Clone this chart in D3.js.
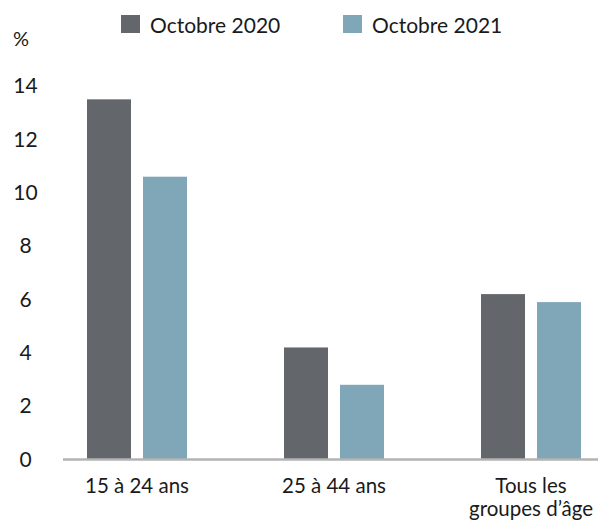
<!DOCTYPE html>
<html>
<head>
<meta charset="utf-8">
<script src="https://cdn.jsdelivr.net/npm/d3@7"></script>
<style>
  html, body { margin: 0; padding: 0; background: #fff; }
  svg { display: block; }
  text { font-family: Lato, "Open Sans", sans-serif; font-weight: 400; fill: #1a1a1a; }
</style>
</head>
<body>
<svg id="chart" width="598" height="522"></svg>
<script>
const categories = [["15 à 24 ans"], ["25 à 44 ans"], ["Tous les", "groupes d’âge"]];
const categoryKeys = ["15 à 24 ans", "25 à 44 ans", "Tous les groupes d’âge"];
const seriesNames = ["Octobre 2020", "Octobre 2021"];
const values2020 = [13.5, 4.2, 6.2];
const values2021 = [10.6, 2.8, 5.9];
const yTicks = [0, 2, 4, 6, 8, 10, 12, 14];
const colors = ["#63676c", "#7fa7b8"];

const svg = d3.select("#chart");
const W = 598, H = 522;
const seriesValues = [values2020, values2021];

const x0 = d3.scaleBand().domain(categoryKeys).range([38.5, 629.5])
  .paddingInner(0.4924).paddingOuter(0.2462);
const x1 = d3.scaleBand().domain(seriesNames).range([0, x0.bandwidth()])
  .paddingInner(12 / 56).paddingOuter(0);
const y = d3.scaleLinear().domain([0, 14]).range([459.5, 86]);

// Y tick labels
const yAxis = d3.axisLeft(y).tickValues(yTicks).tickSize(0).tickFormat(d3.format("d"));
const yg = svg.append("g").attr("transform", "translate(25.5,0)").call(yAxis);
yg.select(".domain").remove();
yg.selectAll("text").attr("x", 0).attr("text-anchor", "middle")
  .style("font-family", "Lato, sans-serif").style("font-weight", "400")
  .style("font-size", "21px").attr("fill", "#1a1a1a");

svg.append("text").attr("x", 13).attr("y", 46).style("font-size", "20px").text("%");

// Bars
const groups = svg.append("g").selectAll("g").data(categoryKeys).join("g")
  .attr("transform", d => `translate(${x0(d)},0)`);
groups.selectAll("rect")
  .data((d, i) => seriesNames.map((s, j) => ({ s, v: seriesValues[j][i], j })))
  .join("rect")
  .attr("x", d => x1(d.s))
  .attr("width", x1.bandwidth())
  .attr("y", d => y(d.v))
  .attr("height", d => y(0) - y(d.v))
  .attr("fill", d => colors[d.j]);

// Baseline
svg.append("line").attr("x1", 63).attr("x2", W).attr("y1", y(0)).attr("y2", y(0))
  .attr("stroke", "#b3b3b3").attr("stroke-width", 2.5);

// Category labels
categoryKeys.forEach((k, i) => {
  const t = svg.append("text").attr("text-anchor", "middle")
    .attr("x", x0(k) + x0.bandwidth() / 2).attr("y", 492.5)
    .style("font-size", "20.5px");
  categories[i].forEach((line, li) => {
    t.append("tspan").attr("x", x0(k) + x0.bandwidth() / 2)
      .attr("dy", li === 0 ? 0 : 23).text(line);
  });
});

// Legend
const legendX = [121, 343];
seriesNames.forEach((s, i) => {
  svg.append("rect").attr("x", legendX[i]).attr("y", 15).attr("width", 19).attr("height", 18)
    .attr("fill", colors[i]);
  svg.append("text").attr("x", legendX[i] + 29).attr("y", 33)
    .style("font-size", "21px").text(s);
});
</script>
</body>
</html>
